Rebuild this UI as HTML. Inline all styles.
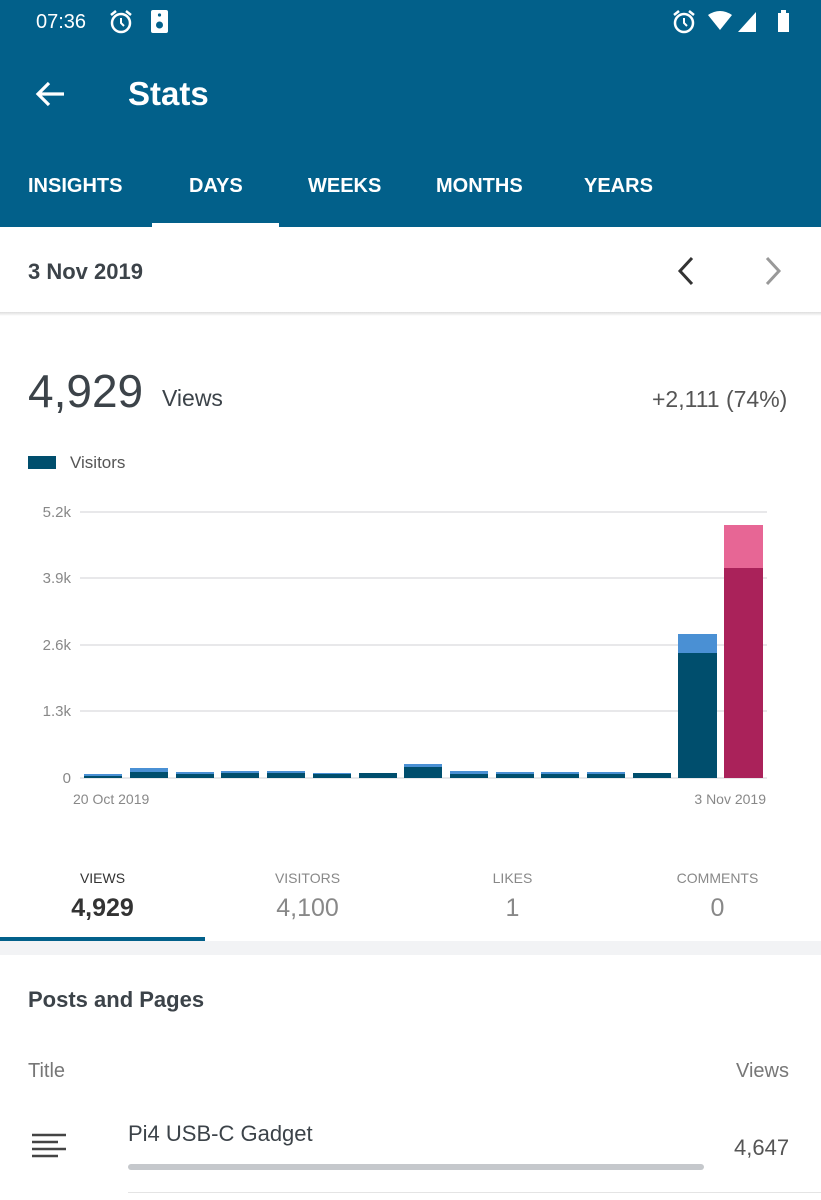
<!DOCTYPE html>
<html><head><meta charset="utf-8"><style>
*{margin:0;padding:0;box-sizing:border-box}
body{width:821px;height:1200px;overflow:hidden;background:#fff;font-family:"Liberation Sans",sans-serif;position:relative}
.a{position:absolute;white-space:nowrap}
.hdr{position:absolute;left:0;top:0;width:821px;height:227px;background:#02608a}
.w{color:#fff}
.tab{font-size:20px;font-weight:bold;color:#fff;top:175px}
.g{color:#3c4349}
</style></head><body>
<div class="hdr"></div>
<div class="a w" style="left:36px;top:11px;font-size:20px">07:36</div>
<svg class="a" style="left:109px;top:9px" width="24" height="26"><circle cx="12" cy="14" r="9" stroke="#fff" stroke-width="2.5" fill="none"/><path d="M12 9V14L15 17" stroke="#fff" stroke-width="2" fill="none"/><path d="M2 6L7 2M22 6L17 2" stroke="#fff" stroke-width="2.5"/></svg>
<div class="a" style="left:151px;top:10px;width:17px;height:23px;background:#fff;border-radius:2px"></div>
<svg class="a" style="left:151px;top:10px" width="17" height="23"><circle cx="8.5" cy="15" r="3.5" fill="#02608a"/><circle cx="8.5" cy="5" r="1.6" fill="#02608a"/></svg>
<svg class="a" style="left:672px;top:9px" width="24" height="26"><circle cx="12" cy="14" r="9" stroke="#fff" stroke-width="2.5" fill="none"/><path d="M12 9V14L15 17" stroke="#fff" stroke-width="2" fill="none"/><path d="M2 6L7 2M22 6L17 2" stroke="#fff" stroke-width="2.5"/></svg>
<svg class="a" style="left:706px;top:10px" width="85" height="24"><path d="M2 5 Q14 -3 26 5 L14 20Z" fill="#fff"/><path d="M32 22 L50 2 L50 22Z" fill="#fff"/><rect x="72" y="3" width="11" height="19" fill="#fff"/><rect x="75" y="0" width="5" height="4" fill="#fff"/></svg>
<svg class="a" style="left:34px;top:80px" width="32" height="28"><path d="M30 14H5M15 3L4 14L15 25" stroke="#fff" stroke-width="3.2" fill="none"/></svg>
<div class="a w" style="left:128px;top:75px;font-size:33px;font-weight:bold">Stats</div>
<div class="a tab" style="left:28px">INSIGHTS</div>
<div class="a tab" style="left:189px">DAYS</div>
<div class="a tab" style="left:308px">WEEKS</div>
<div class="a tab" style="left:436px">MONTHS</div>
<div class="a tab" style="left:584px">YEARS</div>
<div class="a" style="left:152px;top:223px;width:127px;height:4px;background:#fff"></div>
<div class="a" style="left:0;top:312px;width:821px;height:4px;background:linear-gradient(#ddd,#fff)"></div>
<div class="a g" style="left:28px;top:259px;font-size:22px;font-weight:bold">3 Nov 2019</div>
<svg class="a" style="left:672px;top:255px" width="120" height="32"><path d="M20 3L8 16L20 29" stroke="#333" stroke-width="3" fill="none"/><path d="M95 3L107 16L95 29" stroke="#999" stroke-width="3" fill="none"/></svg>
<div class="a g" style="left:28px;top:364px;font-size:46px">4,929</div>
<div class="a g" style="left:162px;top:385px;font-size:23px">Views</div>
<div class="a" style="left:652px;top:386px;font-size:23px;color:#555">+2,111 (74%)</div>
<div class="a" style="left:28px;top:456px;width:28px;height:13px;background:#004e6d"></div>
<div class="a" style="left:70px;top:453px;font-size:17px;color:#555">Visitors</div>
<svg class="a" style="left:0;top:495px" width="821" height="320">
<g stroke="#e0e0e4" stroke-width="1.5"><line x1="80" x2="767" y1="17" y2="17"/><line x1="80" x2="767" y1="83" y2="83"/><line x1="80" x2="767" y1="150" y2="150"/><line x1="80" x2="767" y1="216" y2="216"/><line x1="80" x2="767" y1="283" y2="283"/></g>
<g font-size="15" fill="#888" text-anchor="end"><text x="71" y="22">5.2k</text><text x="71" y="88">3.9k</text><text x="71" y="155">2.6k</text><text x="71" y="221">1.3k</text><text x="71" y="288">0</text></g>
<g font-size="14" fill="#888"><text x="73" y="309">20 Oct 2019</text><text x="766" y="309" text-anchor="end">3 Nov 2019</text></g>
<g fill="#4a90d4">
<rect x="84" y="279" width="38" height="4"/><rect x="130" y="273" width="38" height="10"/><rect x="176" y="277" width="38" height="6"/><rect x="221" y="276" width="38" height="7"/><rect x="267" y="276" width="38" height="7"/><rect x="313" y="278" width="38" height="5"/><rect x="359" y="278" width="38" height="5"/><rect x="404" y="269" width="38" height="14"/><rect x="450" y="276" width="38" height="7"/><rect x="496" y="277" width="38" height="6"/><rect x="541" y="277" width="38" height="6"/><rect x="587" y="277" width="38" height="6"/><rect x="633" y="278" width="38" height="5"/><rect x="678" y="139" width="39" height="144"/></g>
<g fill="#004e6d">
<rect x="84" y="281" width="38" height="2"/><rect x="130" y="277" width="38" height="6"/><rect x="176" y="279" width="38" height="4"/><rect x="221" y="278" width="38" height="5"/><rect x="267" y="278" width="38" height="5"/><rect x="313" y="279" width="38" height="4"/><rect x="359" y="278" width="38" height="5"/><rect x="404" y="272" width="38" height="11"/><rect x="450" y="279" width="38" height="4"/><rect x="496" y="279" width="38" height="4"/><rect x="541" y="279" width="38" height="4"/><rect x="587" y="279" width="38" height="4"/><rect x="633" y="278" width="38" height="5"/><rect x="678" y="158" width="39" height="125"/></g>
<rect x="724" y="30" width="39" height="253" fill="#e76695"/><rect x="724" y="73" width="39" height="210" fill="#aa225a"/>
</svg>
<div class="a" style="left:0;top:870px;width:205px;text-align:center;font-size:14px;color:#333">VIEWS</div>
<div class="a" style="left:0;top:894px;width:205px;text-align:center;font-size:25px;font-weight:bold;color:#333">4,929</div>
<div class="a" style="left:205px;top:870px;width:205px;text-align:center;font-size:14px;color:#888">VISITORS</div>
<div class="a" style="left:205px;top:894px;width:205px;text-align:center;font-size:25px;color:#888">4,100</div>
<div class="a" style="left:410px;top:870px;width:205px;text-align:center;font-size:14px;color:#888">LIKES</div>
<div class="a" style="left:410px;top:894px;width:205px;text-align:center;font-size:25px;color:#888">1</div>
<div class="a" style="left:615px;top:870px;width:205px;text-align:center;font-size:14px;color:#888">COMMENTS</div>
<div class="a" style="left:615px;top:894px;width:205px;text-align:center;font-size:25px;color:#888">0</div>
<div class="a" style="left:0;top:937px;width:205px;height:4px;background:#02608a"></div>
<div class="a" style="left:0;top:941px;width:821px;height:14px;background:#f2f3f5"></div>
<div class="a g" style="left:28px;top:987px;font-size:22px;font-weight:bold">Posts and Pages</div>
<div class="a" style="left:28px;top:1060px;font-size:20px;color:#777">Title</div>
<div class="a" style="left:736px;top:1060px;font-size:20px;color:#777">Views</div>
<svg class="a" style="left:32px;top:1133px" width="34" height="26"><g stroke="#444" stroke-width="2.6"><line x1="0" y1="2" x2="34" y2="2"/><line x1="0" y1="9" x2="26" y2="9"/><line x1="0" y1="16" x2="34" y2="16"/><line x1="0" y1="23" x2="26" y2="23"/></g></svg>
<div class="a g" style="left:128px;top:1121px;font-size:22px">Pi4 USB-C Gadget</div>
<div class="a" style="left:734px;top:1135px;font-size:22px;color:#555">4,647</div>
<div class="a" style="left:128px;top:1164px;width:576px;height:6px;border-radius:3px;background:#c5c8cc"></div>
<div class="a" style="left:128px;top:1192px;width:693px;height:1px;background:#e4e4e4"></div>
</body></html>
